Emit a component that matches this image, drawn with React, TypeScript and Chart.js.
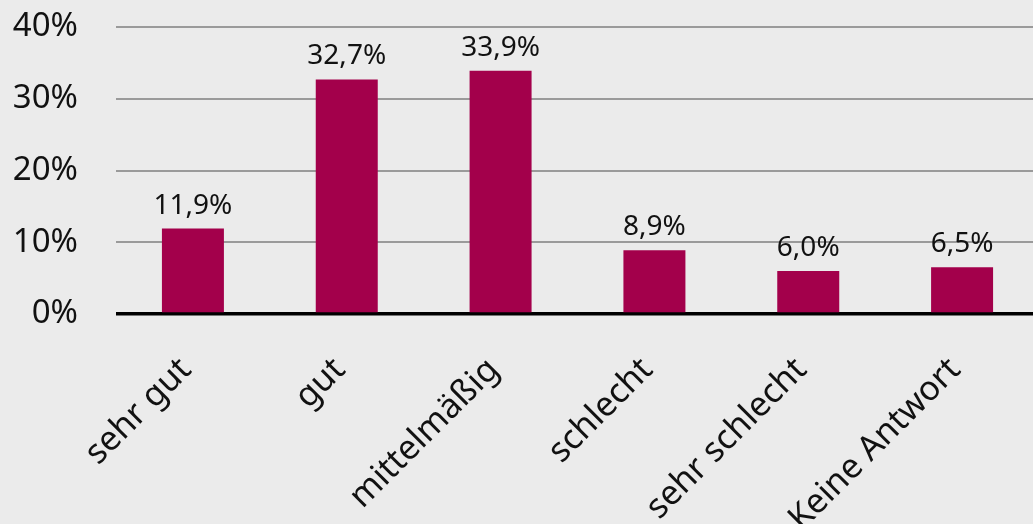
import React, { useEffect, useRef } from "react";
import { Chart, registerables } from "chart.js";

Chart.register(...registerables);

const categories = ["sehr gut", "gut", "mittelmäßig", "schlecht", "sehr schlecht", "Keine Antwort"];
const values = [11.9, 32.7, 33.9, 8.9, 6.0, 6.5];
const yTicks = [0, 10, 20, 30, 40];

const FONT = "'Noto Sans', 'Open Sans', sans-serif";
const BAR_COLOR = "#a3004b";

const fmt = (v: number) => v.toFixed(1).replace(".", ",") + "%";

const dataLabels = {
  id: "dataLabels",
  afterDatasetsDraw(chart: any) {
    const ctx = chart.ctx;
    const meta = chart.getDatasetMeta(0);
    ctx.save();
    ctx.font = `28px ${FONT}`;
    ctx.fillStyle = "#111";
    ctx.textAlign = "center";
    ctx.textBaseline = "alphabetic";
    meta.data.forEach((bar: any, i: number) => {
      ctx.fillText(fmt(values[i]), bar.x, bar.y - 15);
    });
    ctx.restore();
  },
};

export default function App() {
  const ref = useRef<HTMLCanvasElement | null>(null);
  useEffect(() => {
    if (!ref.current) return;
    const chart = new Chart(ref.current, {
      type: "bar",
      data: {
        labels: categories,
        datasets: [
          {
            data: values,
            backgroundColor: BAR_COLOR,
            barPercentage: 0.403,
            categoryPercentage: 1,
          },
        ],
      },
      options: {
        responsive: false,
        animation: false,
        layout: { padding: { top: 27, left: 0, right: 0, bottom: 0 } },
        plugins: { legend: { display: false }, tooltip: { enabled: false } },
        scales: {
          x: {
            grid: { display: false, drawTicks: false },
            border: { display: false },
            ticks: {
              minRotation: 45,
              maxRotation: 45,
              padding: 36,
              labelOffset: -7,
              color: "#111",
              font: { family: FONT, size: 34 },
            },
            afterFit(scale: any) {
              scale.height = 210;
            },
          },
          y: {
            min: 0,
            max: 40,
            afterBuildTicks(scale: any) {
              scale.ticks = yTicks.map((v) => ({ value: v }));
            },
            grid: {
              drawTicks: true,
              tickLength: 38,
              tickColor: "rgba(0,0,0,0)",
              color: (c: any) => (c.tick && c.tick.value === 0 ? "#000" : "#9a9a9a"),
              lineWidth: (c: any) => (c.tick && c.tick.value === 0 ? 3.5 : 2),
            },
            border: { display: false },
            ticks: {
              padding: 0,
              color: "#111",
              font: { family: FONT, size: 33 },
              callback: (v: any) => v + "%",
            },
            afterFit(scale: any) {
              scale.width = 116;
            },
          },
        },
      },
      plugins: [dataLabels],
    });
    return () => chart.destroy();
  }, []);
  return (
    <div
      style={{
        position: "absolute",
        left: 0,
        top: 0,
        width: 1033,
        height: 524,
        overflow: "hidden",
        background: "#ebebeb",
      }}
    >
      <canvas ref={ref} width={1039} height={524} style={{ display: "block" }} />
    </div>
  );
}
